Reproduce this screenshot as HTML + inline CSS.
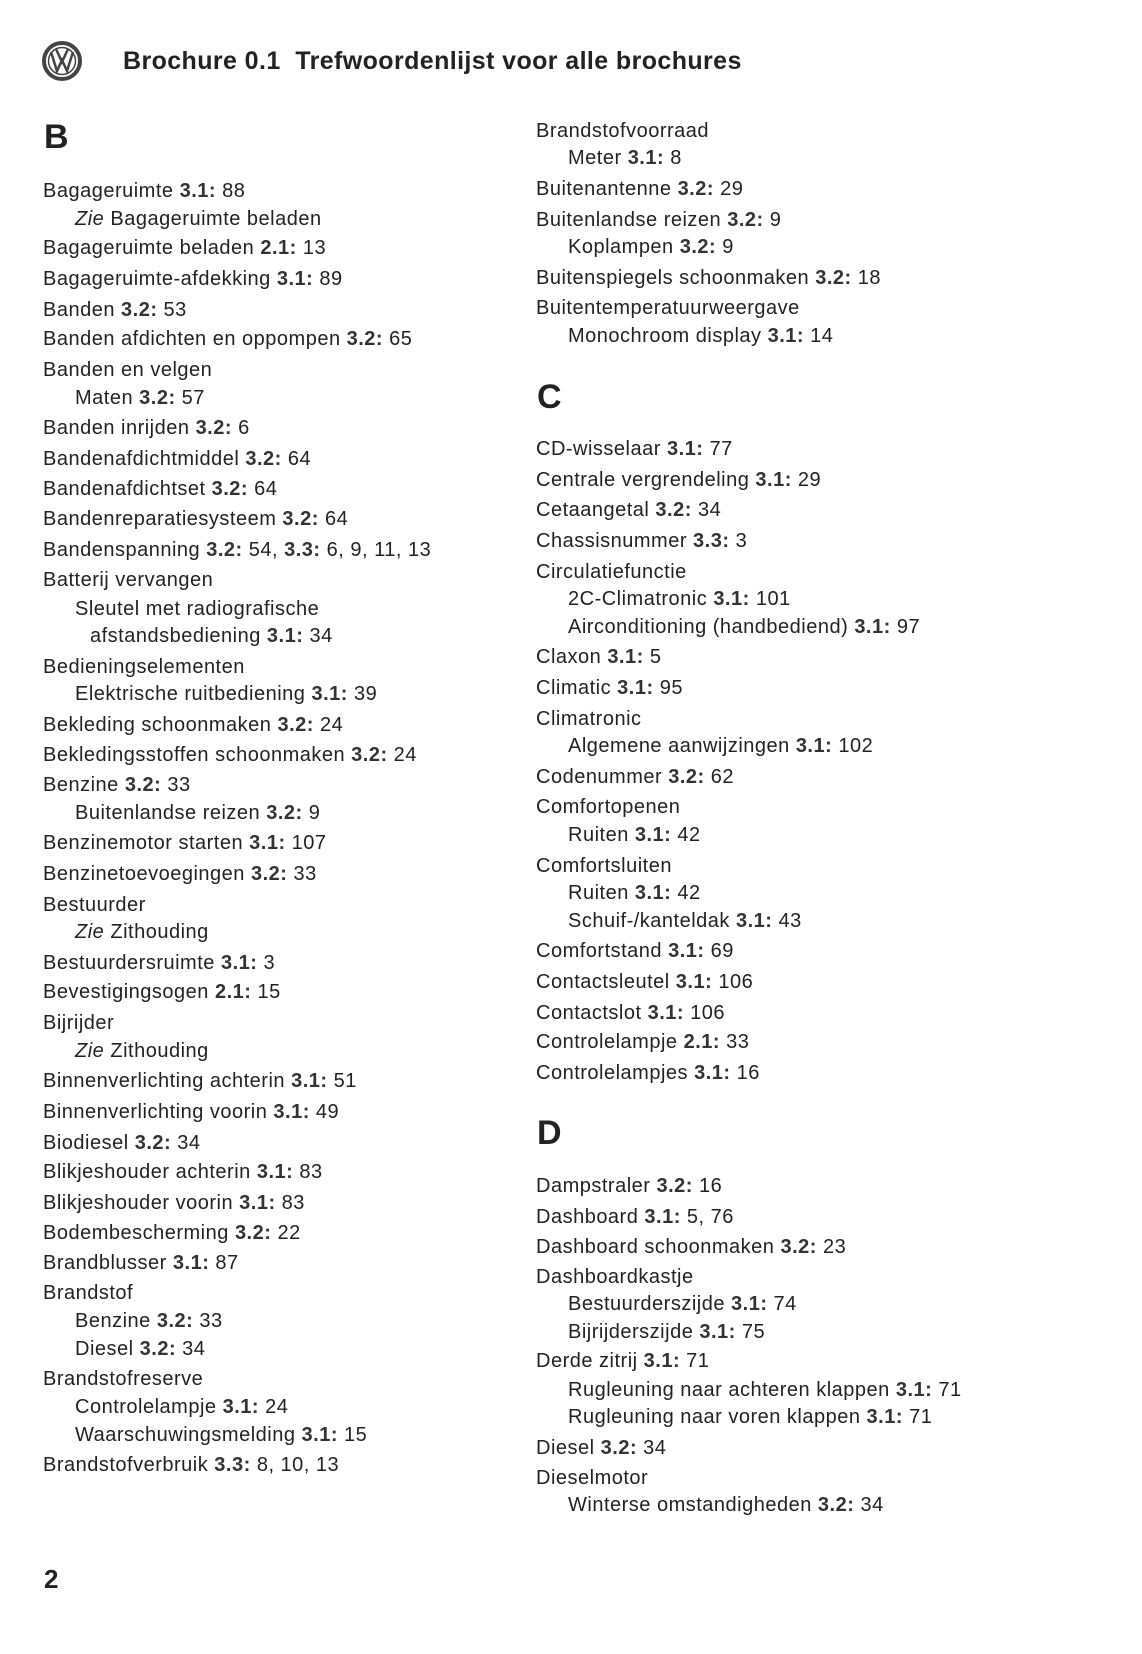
<!DOCTYPE html>
<html><head><meta charset="utf-8"><style>
body{margin:0;width:1142px;height:1654px;background:#fff;position:relative;overflow:hidden;font-family:"Liberation Sans",sans-serif;color:#222}
.l{position:absolute;top:calc(var(--y)*1.057px - 11px);font-size:20px;line-height:24px;white-space:nowrap;letter-spacing:0.5px}
.a{left:43px}.ai{left:75px}.aii{left:90px}.b{left:536px}.bi{left:568px}
b{font-weight:bold;color:#333}
.h{position:absolute;font-weight:bold;font-size:34px;line-height:40px}
</style></head><body>
<svg style="position:absolute;left:41px;top:40px" width="42" height="42" viewBox="0 0 42 42"><circle cx="21" cy="21" r="18" fill="none" stroke="#444" stroke-width="4"/><circle cx="21" cy="21" r="13.5" fill="none" stroke="#444" stroke-width="1.5"/><path d="M10 12 L16 31 L21 20 L26 31 L32 12 M15 9 L21 22 L27 9" fill="none" stroke="#444" stroke-width="2.5"/></svg>
<div style="position:absolute;left:123px;top:47px;font-size:25px;font-weight:bold;color:#222;letter-spacing:0.4px">Brochure 0.1&nbsp; Trefwoordenlijst voor alle brochures</div>
<div class="h" style="left:44px;top:117px">B</div>
<div class="h" style="left:537px;top:377px">C</div>
<div class="h" style="left:537px;top:1113px">D</div>
<div class="h" style="left:44px;top:1559px;font-size:26px">2</div>

<div class="l a" style="--y:180">Bagageruimte <b>3.1:</b> 88</div>
<div class="l ai" style="--y:206"><i>Zie</i> Bagageruimte beladen</div>
<div class="l a" style="--y:234">Bagageruimte beladen <b>2.1:</b> 13</div>
<div class="l a" style="--y:263">Bagageruimte-afdekking <b>3.1:</b> 89</div>
<div class="l a" style="--y:292">Banden <b>3.2:</b> 53</div>
<div class="l a" style="--y:320">Banden afdichten en oppompen <b>3.2:</b> 65</div>
<div class="l a" style="--y:349">Banden en velgen</div>
<div class="l ai" style="--y:376">Maten <b>3.2:</b> 57</div>
<div class="l a" style="--y:404">Banden inrijden <b>3.2:</b> 6</div>
<div class="l a" style="--y:433">Bandenafdichtmiddel <b>3.2:</b> 64</div>
<div class="l a" style="--y:462">Bandenafdichtset <b>3.2:</b> 64</div>
<div class="l a" style="--y:490">Bandenreparatiesysteem <b>3.2:</b> 64</div>
<div class="l a" style="--y:519">Bandenspanning <b>3.2:</b> 54, <b>3.3:</b> 6, 9, 11, 13</div>
<div class="l a" style="--y:548">Batterij vervangen</div>
<div class="l ai" style="--y:575">Sleutel met radiografische</div>
<div class="l aii" style="--y:601">afstandsbediening <b>3.1:</b> 34</div>
<div class="l a" style="--y:630">Bedieningselementen</div>
<div class="l ai" style="--y:656">Elektrische ruitbediening <b>3.1:</b> 39</div>
<div class="l a" style="--y:685">Bekleding schoonmaken <b>3.2:</b> 24</div>
<div class="l a" style="--y:713">Bekledingsstoffen schoonmaken <b>3.2:</b> 24</div>
<div class="l a" style="--y:742">Benzine <b>3.2:</b> 33</div>
<div class="l ai" style="--y:768">Buitenlandse reizen <b>3.2:</b> 9</div>
<div class="l a" style="--y:797">Benzinemotor starten <b>3.1:</b> 107</div>
<div class="l a" style="--y:826">Benzinetoevoegingen <b>3.2:</b> 33</div>
<div class="l a" style="--y:855">Bestuurder</div>
<div class="l ai" style="--y:881"><i>Zie</i> Zithouding</div>
<div class="l a" style="--y:910">Bestuurdersruimte <b>3.1:</b> 3</div>
<div class="l a" style="--y:938">Bevestigingsogen <b>2.1:</b> 15</div>
<div class="l a" style="--y:967">Bijrijder</div>
<div class="l ai" style="--y:993"><i>Zie</i> Zithouding</div>
<div class="l a" style="--y:1022">Binnenverlichting achterin <b>3.1:</b> 51</div>
<div class="l a" style="--y:1051">Binnenverlichting voorin <b>3.1:</b> 49</div>
<div class="l a" style="--y:1080">Biodiesel <b>3.2:</b> 34</div>
<div class="l a" style="--y:1108">Blikjeshouder achterin <b>3.1:</b> 83</div>
<div class="l a" style="--y:1137">Blikjeshouder voorin <b>3.1:</b> 83</div>
<div class="l a" style="--y:1166">Bodembescherming <b>3.2:</b> 22</div>
<div class="l a" style="--y:1194">Brandblusser <b>3.1:</b> 87</div>
<div class="l a" style="--y:1222">Brandstof</div>
<div class="l ai" style="--y:1249">Benzine <b>3.2:</b> 33</div>
<div class="l ai" style="--y:1275">Diesel <b>3.2:</b> 34</div>
<div class="l a" style="--y:1304">Brandstofreserve</div>
<div class="l ai" style="--y:1330">Controlelampje <b>3.1:</b> 24</div>
<div class="l ai" style="--y:1357">Waarschuwingsmelding <b>3.1:</b> 15</div>
<div class="l a" style="--y:1385">Brandstofverbruik <b>3.3:</b> 8, 10, 13</div>

<div class="l b" style="--y:123">Brandstofvoorraad</div>
<div class="l bi" style="--y:149">Meter <b>3.1:</b> 8</div>
<div class="l b" style="--y:178">Buitenantenne <b>3.2:</b> 29</div>
<div class="l b" style="--y:207">Buitenlandse reizen <b>3.2:</b> 9</div>
<div class="l bi" style="--y:233">Koplampen <b>3.2:</b> 9</div>
<div class="l b" style="--y:262">Buitenspiegels schoonmaken <b>3.2:</b> 18</div>
<div class="l b" style="--y:290">Buitentemperatuurweergave</div>
<div class="l bi" style="--y:317">Monochroom display <b>3.1:</b> 14</div>
<div class="l b" style="--y:424">CD-wisselaar <b>3.1:</b> 77</div>
<div class="l b" style="--y:453">Centrale vergrendeling <b>3.1:</b> 29</div>
<div class="l b" style="--y:482">Cetaangetal <b>3.2:</b> 34</div>
<div class="l b" style="--y:511">Chassisnummer <b>3.3:</b> 3</div>
<div class="l b" style="--y:540">Circulatiefunctie</div>
<div class="l bi" style="--y:566">2C-Climatronic <b>3.1:</b> 101</div>
<div class="l bi" style="--y:592">Airconditioning (handbediend) <b>3.1:</b> 97</div>
<div class="l b" style="--y:621">Claxon <b>3.1:</b> 5</div>
<div class="l b" style="--y:650">Climatic <b>3.1:</b> 95</div>
<div class="l b" style="--y:679">Climatronic</div>
<div class="l bi" style="--y:705">Algemene aanwijzingen <b>3.1:</b> 102</div>
<div class="l b" style="--y:734">Codenummer <b>3.2:</b> 62</div>
<div class="l b" style="--y:763">Comfortopenen</div>
<div class="l bi" style="--y:789">Ruiten <b>3.1:</b> 42</div>
<div class="l b" style="--y:818">Comfortsluiten</div>
<div class="l bi" style="--y:844">Ruiten <b>3.1:</b> 42</div>
<div class="l bi" style="--y:870">Schuif-/kanteldak <b>3.1:</b> 43</div>
<div class="l b" style="--y:899">Comfortstand <b>3.1:</b> 69</div>
<div class="l b" style="--y:928">Contactsleutel <b>3.1:</b> 106</div>
<div class="l b" style="--y:957">Contactslot <b>3.1:</b> 106</div>
<div class="l b" style="--y:985">Controlelampje <b>2.1:</b> 33</div>
<div class="l b" style="--y:1014">Controlelampjes <b>3.1:</b> 16</div>
<div class="l b" style="--y:1121">Dampstraler <b>3.2:</b> 16</div>
<div class="l b" style="--y:1150">Dashboard <b>3.1:</b> 5, 76</div>
<div class="l b" style="--y:1179">Dashboard schoonmaken <b>3.2:</b> 23</div>
<div class="l b" style="--y:1207">Dashboardkastje</div>
<div class="l bi" style="--y:1233">Bestuurderszijde <b>3.1:</b> 74</div>
<div class="l bi" style="--y:1259">Bijrijderszijde <b>3.1:</b> 75</div>
<div class="l b" style="--y:1287">Derde zitrij <b>3.1:</b> 71</div>
<div class="l bi" style="--y:1314">Rugleuning naar achteren klappen <b>3.1:</b> 71</div>
<div class="l bi" style="--y:1340">Rugleuning naar voren klappen <b>3.1:</b> 71</div>
<div class="l b" style="--y:1369">Diesel <b>3.2:</b> 34</div>
<div class="l b" style="--y:1397">Dieselmotor</div>
<div class="l bi" style="--y:1423">Winterse omstandigheden <b>3.2:</b> 34</div>
</body></html>
